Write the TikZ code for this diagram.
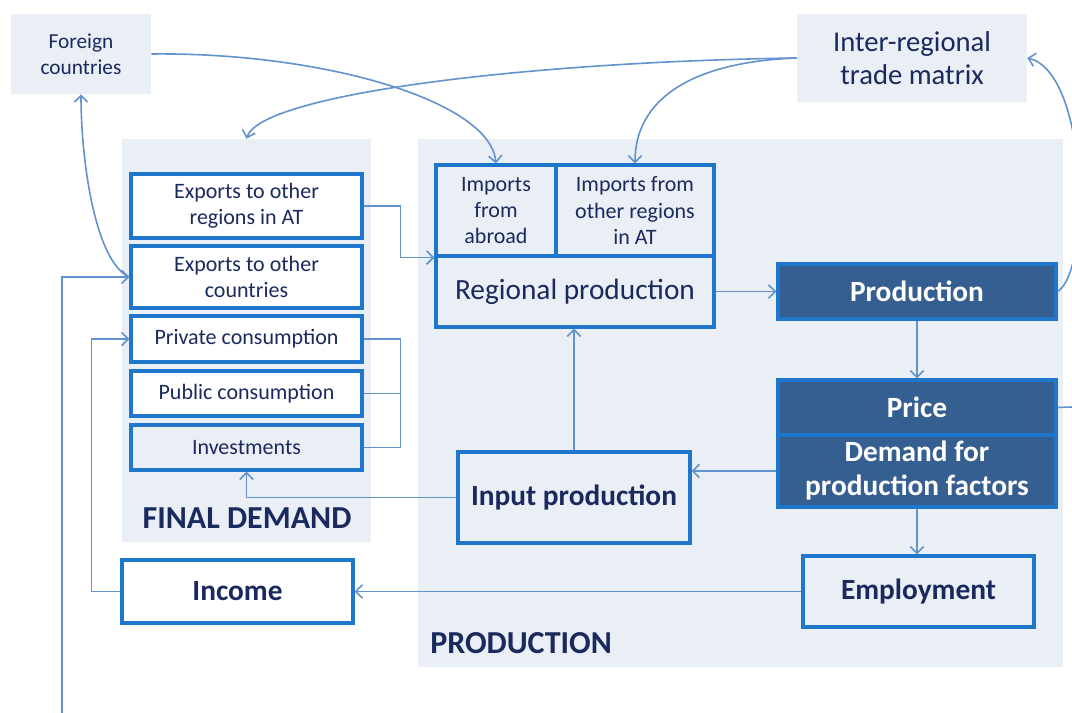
\documentclass[tikz,border=0pt]{standalone}
\usepackage{fontspec}
\setmainfont{Carlito}
\usetikzlibrary{arrows.meta}
\definecolor{panel}{HTML}{EAEEF5}
\definecolor{bord}{HTML}{1F77CC}
\definecolor{dark}{HTML}{365F91}
\definecolor{ln}{HTML}{6393CE}
\definecolor{txt}{HTML}{1B2A5E}
\begin{document}
\begin{tikzpicture}[x=0.75pt,y=-0.75pt,
  sz/.style 2 args={minimum width=#1*0.75pt, minimum height=#2*0.75pt},
  panelbg/.style={fill=panel, draw=none, inner sep=0pt, align=center, text=txt},
  wbox/.style={draw=bord, line width=2.4pt, fill=white, inner sep=0pt, align=center, text=txt,
    font=\fontsize{16.5}{19.8}\selectfont},
  lbox/.style={wbox, fill=panel},
  bigtxt/.style={font=\fontsize{22}{25.5}\selectfont\bfseries},
  dbox/.style={draw=bord, line width=2.4pt, fill=dark, text=white, inner sep=0pt, align=center,
    font=\fontsize{22}{25.5}\selectfont\bfseries},
  conn/.style={draw=ln, line width=1.2pt, -{Straight Barb[length=5pt,width=10pt]}},
  plain/.style={draw=ln, line width=1.2pt},
  title/.style={text=txt, font=\fontsize{24}{28}\selectfont\bfseries, inner sep=0pt}]
\useasboundingbox (0,0) rectangle (1072,713);
% backgrounds
\node[panelbg, sz={249}{403}] (fdpanel) at (246.5,340.5) {};
\node[panelbg, sz={645}{528}] (prpanel) at (740.5,403) {};
\node[panelbg, sz={140}{80}, font=\fontsize{16}{19.5}\selectfont] (foreign) at (81,54) {Foreign\\countries};
\node[panelbg, sz={230}{88}, font=\fontsize{21.5}{25}\selectfont] (inter) at (912,58) {Inter-regional\\trade matrix};
\node[title] (fdlabel) at (247,518) {FINAL DEMAND};
\node[title, anchor=west] (prlabel) at (430,643) {PRODUCTION};
% final demand boxes
\node[wbox, sz={231}{64}] (exr) at (246.5,206) {Exports to other\\regions in AT};
\node[wbox, sz={231}{62}] (exo) at (246.5,277) {Exports to other\\countries};
\node[wbox, sz={231}{46}] (priv) at (246.5,339) {Private consumption};
\node[wbox, sz={231}{45}] (pub) at (246.5,393.5) {Public consumption};
\node[lbox, sz={231}{45}] (inv) at (246.5,447.5) {Investments};
% production area
\node[lbox, sz={120}{91}] (impa) at (496,210.5) {Imports\\from\\abroad};
\node[lbox, sz={158}{91}] (impo) at (635,210.5) {Imports from\\other regions\\in AT};
\node[lbox, sz={278}{71}, font=\fontsize{22}{25.5}\selectfont] (regp) at (575,291.5) {Regional production};
\node[dbox, sz={278}{55}] (prod) at (917,291.5) {Production};
\node[dbox, sz={278}{55}] (price) at (917,407.5) {Price};
\node[dbox, sz={278}{72}] (demand) at (917,471) {Demand for\\production factors};
\node[lbox, bigtxt, sz={232}{91}] (input) at (574,497.5) {Input production};
\node[lbox, bigtxt, sz={231}{71}] (emp) at (918.5,591.5) {Employment};
\node[wbox, bigtxt, sz={231}{63}] (income) at (237.5,591.5) {Income};
% connectors
\draw[conn] (foreign.east) .. controls (320,52) and (490,100) .. (impa.north);
\draw[conn] (inter.west) .. controls (520,62) and (260,95) .. (fdpanel.north);
\draw[conn] (inter.west) .. controls (690,62) and (635,100) .. (impo.north);
\draw[conn] (prod.east) .. controls (1092,270) and (1088,72) .. (inter.east);
\coordinate (rightend) at (1072,407);
\draw[plain] (price.east) -- (rightend);
\draw[conn] (exo.west) .. controls (95,262) and (81,160) .. (foreign.south);
\coordinate (bottomleft) at (62,713);
\draw[conn] (bottomleft) |- (exo.west);
\draw[conn] (income.west) -- ++(-29,0) |- (priv.west);
\draw[conn] (exr.east) -- ++(37,0) |- (impa.south west);
\draw[plain] (priv.east) -- ++(37,0) |- (inv.east);
\draw[plain] (pub.east) -- ++(37,0);
\draw[conn] (input.west) -| (inv.south);
\draw[conn] (input.north) -- (input.north |- regp.south);
\draw[conn] (regp.east) -- (prod.west);
\draw[conn] (prod.south) -- (price.north);
\draw[conn] (demand.west) -- (demand.west -| input.east);
\draw[conn] (demand.south) -- (demand.south |- emp.north);
\draw[conn] (emp.west) -- (emp.west -| income.east);
\end{tikzpicture}
\end{document}
